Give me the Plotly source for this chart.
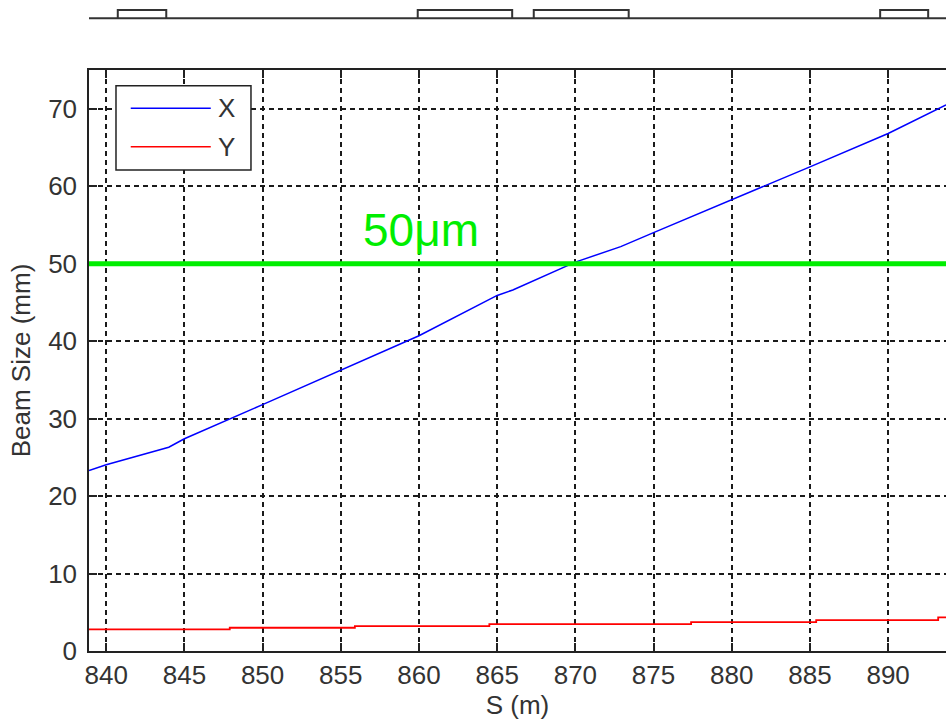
import plotly.graph_objects as go

# Beam size along the line, S in metres, sizes in mm
s_x = [838.9, 840.0, 844.0, 845.0, 850.0, 855.0, 860.0, 865.0, 866.0, 870.0, 872.9, 875.0, 880.0, 885.0, 890.0, 893.7]
size_x = [23.3, 24.05, 26.3, 27.4, 31.8, 36.2, 40.7, 45.9, 46.6, 50.2, 52.2, 54.0, 58.2, 62.5, 66.8, 70.5]

s_y = [838.9, 847.9, 855.9, 864.5, 877.4, 885.4, 893.2, 893.7]
size_y = [2.78, 3.0, 3.22, 3.48, 3.73, 3.99, 4.34, 4.34]

series_names = ["X", "Y"]

# Magnet positions (start, end) in S for the lattice strip on top
elem_start = [840.74, 859.92, 867.34, 889.49]
elem_end = [843.84, 865.96, 873.41, 892.56]

limit_value = 50.0
limit_label = "50\u03bcm"

x_ticks = list(range(840, 895, 5))
y_ticks = list(range(0, 80, 10))
x_range = [838.9, 893.7]
y_range = [0, 75]

FONT = "Liberation Sans, Arial, sans-serif"
TEXT_COLOR = "#333333"
FSIZE = 26

# lattice strip: continuous baseline plus one rectangle per element
lat_x = [x_range[0], x_range[1], None]
lat_y = [0, 0, None]
for a, b in zip(elem_start, elem_end):
    lat_x += [a, a, b, b, None]
    lat_y += [0, 1, 1, 0, None]

fig = go.Figure()

fig.add_trace(go.Scatter(x=lat_x, y=lat_y, mode="lines", xaxis="x2", yaxis="y2",
                         line=dict(color="#333333", width=2), showlegend=False,
                         hoverinfo="skip", connectgaps=False))

fig.add_trace(go.Scatter(x=s_x, y=size_x, mode="lines", name=series_names[0],
                         line=dict(color="#0000ff", width=1.5), showlegend=False))
fig.add_trace(go.Scatter(x=s_y, y=size_y, mode="lines", name=series_names[1],
                         line=dict(color="#ff0000", width=1.8, shape="hv"), showlegend=False))

# 50 um reference line
fig.add_shape(type="line", xref="x domain", yref="y", x0=0, x1=1,
              y0=limit_value, y1=limit_value,
              line=dict(color="#00ee00", width=5))
fig.add_annotation(x=860.1, y=limit_value, xref="x", yref="y", text=limit_label,
                   showarrow=False, yanchor="bottom", yshift=6,
                   font=dict(family="Liberation Sans, Arial, sans-serif", size=46, color="#00ee00"))

# legend box drawn in axis-domain coordinates
fig.add_shape(type="rect", xref="x domain", yref="y domain",
              x0=0.0315, x1=0.189, y0=0.828, y1=0.973,
              line=dict(color="#222222", width=1.5), fillcolor="white", layer="above")
leg_colors = ["#0000ff", "#ff0000"]
leg_y = [0.934, 0.868]
for name, col, ly in zip(series_names, leg_colors, leg_y):
    fig.add_shape(type="line", xref="x domain", yref="y domain",
                  x0=0.0487, x1=0.1421, y0=ly, y1=ly,
                  line=dict(color=col, width=1.5), layer="above")
    fig.add_annotation(xref="x domain", yref="y domain", x=0.1606, y=ly, text=name,
                       showarrow=False, xanchor="center", yanchor="middle",
                       font=dict(family=FONT, size=FSIZE, color=TEXT_COLOR))

axis_common = dict(showline=True, linecolor="#222222", linewidth=1.5,
                   ticks="inside", ticklen=8, tickwidth=1.5, tickcolor="#222222",
                   showgrid=True, gridcolor="#1a1a1a", gridwidth=1.5, griddash="5px,4px",
                   zeroline=False, tickfont=dict(family=FONT, size=FSIZE, color=TEXT_COLOR))

fig.update_layout(
    width=946, height=720,
    margin=dict(l=89, r=0, t=5, b=69),
    paper_bgcolor="white", plot_bgcolor="white",
    showlegend=False,
    xaxis=dict(range=x_range, tickvals=x_ticks, mirror="ticks", domain=[0, 1],
               title=dict(text="S (m)", standoff=6,
                          font=dict(family=FONT, size=FSIZE, color=TEXT_COLOR)),
               **axis_common),
    yaxis=dict(range=y_range, tickvals=y_ticks, domain=[0, 0.8994],
               ticklabelstandoff=5,
               title=dict(text="Beam Size (mm)", standoff=10,
                          font=dict(family=FONT, size=FSIZE, color=TEXT_COLOR)),
               **axis_common),
    xaxis2=dict(range=x_range, anchor="y2", visible=False),
    yaxis2=dict(range=[-0.807, 1.602], domain=[1 - 20 / 646, 1], anchor="x2",
                visible=False),
)

fig.write_html("out.html")
